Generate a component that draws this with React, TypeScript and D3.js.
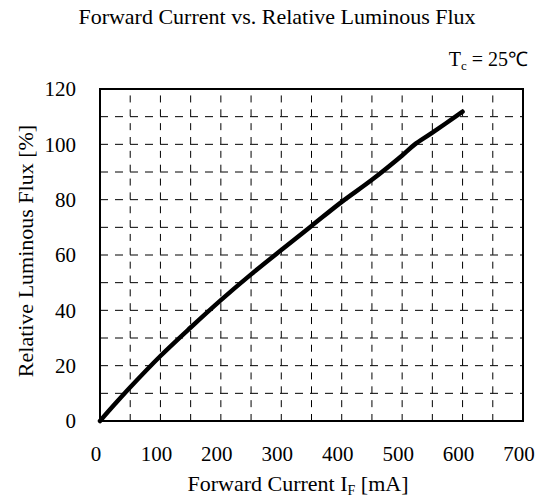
import * as d3 from 'd3'

// forward current [mA] vs relative luminous flux [%]
const currentMA = [0, 25, 50, 100, 150, 200, 250, 300, 350, 400, 450, 500, 520, 550, 600]
const fluxPct = [0, 6.2, 12.2, 23.5, 33.8, 43.7, 53, 61.8, 70.5, 79.2, 87.2, 96, 99.8, 104.2, 111.8]

const xTicks = [0, 100, 200, 300, 400, 500, 600, 700]
const yTicks = [0, 20, 40, 60, 80, 100, 120]
const xGrid = d3.range(50, 700, 50)
const yGrid = d3.range(10, 120, 10)

const width = 538
const height = 500
const marginTop = 89
const marginRight = 15
const marginBottom = 79
const marginLeft = 100
const font = "'Liberation Serif', 'Times New Roman', Times, serif"

export default function App() {
  const x = d3.scaleLinear([0, 700], [marginLeft, width - marginRight])
  const y = d3.scaleLinear([0, 120], [height - marginBottom, marginTop])

  const points = currentMA.map((c, i) => [c, fluxPct[i]] as [number, number])
  const line = d3
    .line<[number, number]>()
    .x((d) => x(d[0]))
    .y((d) => y(d[1]))
    .curve(d3.curveCatmullRom)

  return (
    <svg
      width={width}
      height={height}
      style={{ position: 'absolute', left: 0, top: 0, background: 'white', fontFamily: font }}
    >
      <text x={277} y={24} fontSize={22} textAnchor="middle">
        Forward Current vs. Relative Luminous Flux
      </text>
      <text x={528} y={66} fontSize={20} textAnchor="end">
        T<tspan fontSize={13} dy={4}>c</tspan>
        <tspan dy={-4}> = 25℃</tspan>
      </text>

      {/* grid */}
      <g stroke="#000" strokeWidth={1} strokeDasharray="8,7">
        {yGrid.map((v) => (
          <line key={'h' + v} x1={x(0)} x2={x(700)} y1={y(v)} y2={y(v)} />
        ))}
      </g>
      <g stroke="#000" strokeWidth={1} strokeDasharray="7,6.85">
        {xGrid.map((v) => (
          <line key={'v' + v} x1={x(v)} x2={x(v)} y1={y(0)} y2={y(120)} />
        ))}
      </g>

      {/* frame */}
      <rect
        x={x(0)}
        y={y(120)}
        width={x(700) - x(0)}
        height={y(0) - y(120)}
        fill="none"
        stroke="#000"
        strokeWidth={2}
      />

      <path
        d={line(points) ?? ''}
        fill="none"
        stroke="#000"
        strokeWidth={4.5}
        strokeLinecap="round"
        strokeLinejoin="round"
      />

      {/* tick labels */}
      <g fontSize={21}>
        {xTicks.map((t) => (
          <text key={'xt' + t} x={x(t) - 4} y={461} textAnchor="middle">
            {t}
          </text>
        ))}
        {yTicks.map((t) => (
          <text key={'yt' + t} x={76} y={y(t)} dy="0.35em" textAnchor="end">
            {t}
          </text>
        ))}
      </g>

      <text x={298} y={491} fontSize={22} textAnchor="middle">
        Forward Current I<tspan fontSize={14} dy={4}>F</tspan>
        <tspan dy={-4}> [mA]</tspan>
      </text>
      <text
        transform="translate(33,251) rotate(-90)"
        fontSize={22}
        textAnchor="middle"
      >
        Relative Luminous Flux [%]
      </text>
    </svg>
  )
}
